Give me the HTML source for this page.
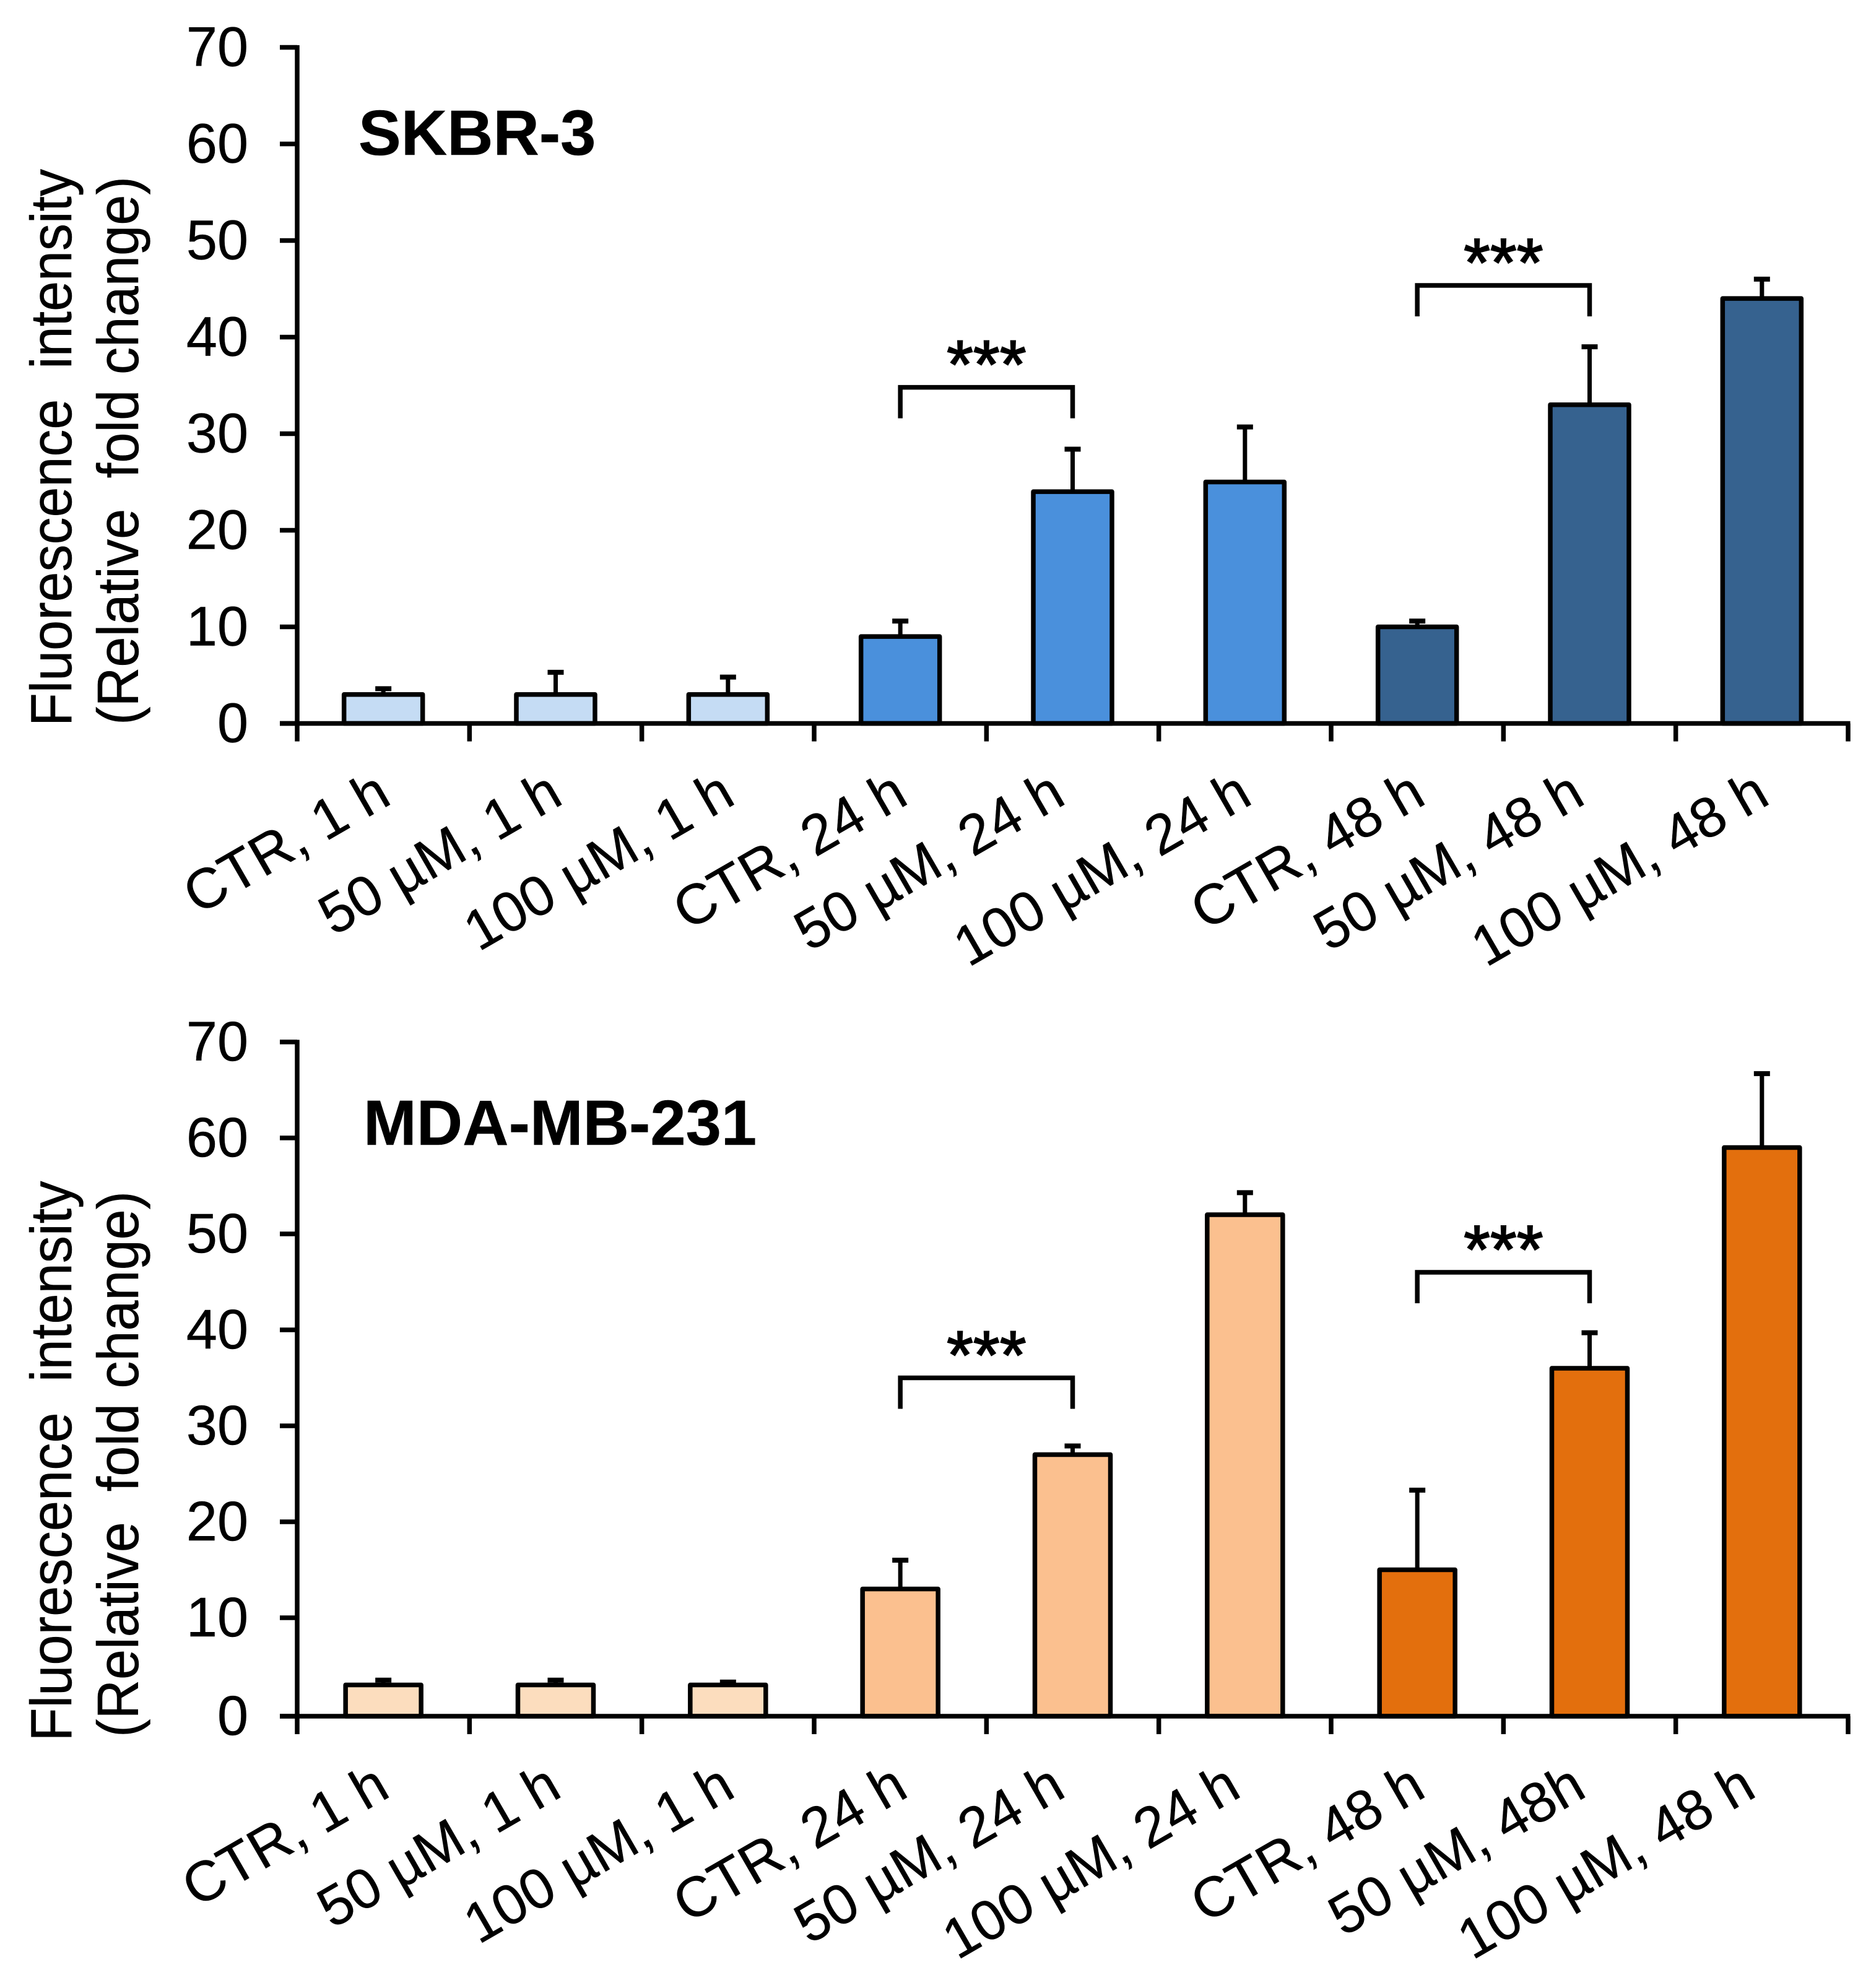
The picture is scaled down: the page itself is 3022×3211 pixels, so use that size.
<!DOCTYPE html>
<html lang="en">
<head>
<meta charset="utf-8">
<title>Fluorescence intensity: SKBR-3 and MDA-MB-231</title>
<style>
html,body{margin:0;padding:0;background:#fff;}
svg{display:block;}
text{font-family:"Liberation Sans",Arial,sans-serif;fill:#000;stroke:#000;stroke-width:0.5px;white-space:pre;}
</style>
</head>
<body>
<svg id="figure" xmlns="http://www.w3.org/2000/svg" width="3022" height="3211" viewBox="0 0 3022 3211"></svg>
<script>
// Shared tick labels
const yTickLabels = [0, 10, 20, 30, 40, 50, 60, 70];

// SKBR-3 data
const skbrCategories = ["CTR, 1 h", "50 µM, 1 h", "100 µM, 1 h", "CTR, 24 h", "50 µM, 24 h", "100 µM, 24 h", "CTR, 48 h", "50 µM, 48 h", "100 µM, 48 h"];
const skbrValues = [3, 3, 3, 9, 24, 25, 10, 33, 44];
const skbrErrorTops = [3.6, 5.3, 4.8, 10.6, 28.4, 30.7, 10.6, 39, 46];
const skbrBracketFrom = [3, 6];
const skbrBracketTo = [4, 7];
const skbrBracketLevels = [34.8, 45.35];

// MDA-MB-231 data
const mdaCategories = ["CTR, 1 h", "50 µM, 1 h", "100 µM, 1 h", "CTR, 24 h", "50 µM, 24 h", "100 µM, 24 h", "CTR, 48 h", "50 µM, 48h", "100 µM, 48 h"];
const mdaValues = [3, 3, 3, 13, 27, 52, 15, 36, 59];
const mdaErrorTops = [3.5, 3.5, 3.3, 16, 27.9, 54.3, 23.3, 39.7, 66.7];
const mdaBracketFrom = [3, 6];
const mdaBracketTo = [4, 7];
const mdaBracketLevels = [35, 46];

const svg = document.getElementById('figure');
const NS = 'http://www.w3.org/2000/svg';
const LINE = 7.5;

function make(parent, tag, attrs, content) {
  const el = document.createElementNS(NS, tag);
  for (const k in attrs) el.setAttribute(k, attrs[k]);
  if (content !== undefined) el.textContent = content;
  parent.appendChild(el);
  return el;
}

function drawPanel(cfg) {
  const xLeft = 480, xRight = 2985, yScale = v => cfg.y0 - v * cfg.unit;
  const band = (xRight - xLeft) / cfg.categories.length;
  const xCenter = i => xLeft + (i + 0.5) * band;

  const g = make(svg, 'g', {});
  
  

  // Bars and error bars (drawn first, axis on top)
  cfg.values.forEach((v, i) => {
    const top = yScale(v), errTop = yScale(cfg.errorTops[i]), cx = xCenter(i);
    const errLine = make(g, 'line', {x1: cx, x2: cx, y1: top, y2: errTop, stroke: '#000', 'stroke-width': 7});
    
    
    const errCap = make(g, 'line', {x1: cx - 13, x2: cx + 13, y1: errTop, y2: errTop, stroke: '#000', 'stroke-width': 8});
    
    
    const bar = make(g, 'rect', {
      x: cx - cfg.barWidth / 2, y: top, width: cfg.barWidth, height: cfg.axisY - top,
      fill: cfg.colors[Math.floor(i / 3)], stroke: '#000', 'stroke-width': LINE, 'stroke-linejoin': 'round'
    });
    
    
  });

  // Y axis
  const yAxis = make(g, 'line', {x1: xLeft, x2: xLeft, y1: yScale(70) - 3.5, y2: cfg.axisY + 29, stroke: '#000', 'stroke-width': LINE});
  
  

  yTickLabels.forEach(t => {
    const y = t === 0 ? cfg.axisY : yScale(t);
    const tick = make(g, 'line', {x1: 452, x2: xLeft, y1: y, y2: y, stroke: '#000', 'stroke-width': LINE});
    
    
    const label = make(g, 'text', {x: 401, y: y + 30, 'text-anchor': 'end', 'font-size': 90}, String(t));
    
    
  });

  // X axis
  const xAxis = make(g, 'line', {x1: 452, x2: xRight + 3.5, y1: cfg.axisY, y2: cfg.axisY, stroke: '#000', 'stroke-width': LINE});
  
  

  for (let i = 1; i <= cfg.categories.length; i++) {
    const x = xLeft + i * band;
    const tick = make(g, 'line', {x1: x, x2: x, y1: cfg.axisY, y2: cfg.axisY + 29, stroke: '#000', 'stroke-width': LINE});
    
    
  }

  cfg.categories.forEach((c, i) => {
    const ax = xCenter(i) + cfg.labelNudge[i], ay = cfg.axisY + 128;
    const label = make(g, 'text', {
      x: ax, y: ay, 'text-anchor': 'end', 'font-size': 91,
      transform: 'rotate(-30 ' + ax + ' ' + ay + ')'
    }, c);
    
    
  });

  // Axis title (two rotated lines)
  const title1 = make(g, 'text', {
    transform: 'translate(115 ' + cfg.titleCenter1 + ') rotate(-90)', 'text-anchor': 'middle',
    'font-size': 94, textLength: cfg.title1Len, lengthAdjust: 'spacingAndGlyphs'
  }, 'Fluorescence  intensity');
  
  
  const title2 = make(g, 'text', {
    transform: 'translate(223 ' + cfg.titleCenter2 + ') rotate(-90)', 'text-anchor': 'middle',
    'font-size': 94, textLength: cfg.title2Len, lengthAdjust: 'spacingAndGlyphs'
  }, '(Relative  fold change)');
  
  

  // Panel label
  const heading = make(g, 'text', {x: cfg.headingX, y: cfg.headingY, 'font-size': 103, 'font-weight': 700}, cfg.heading);
  
  

  // Significance brackets
  cfg.bracketLevels.forEach((lvl, b) => {
    const x1 = xCenter(cfg.bracketFrom[b]), x2 = xCenter(cfg.bracketTo[b]), y = yScale(lvl);
    const bracket = make(g, 'path', {
      d: 'M' + x1 + ' ' + (y + 50) + 'V' + y + 'H' + x2 + 'V' + (y + 50),
      fill: 'none', stroke: '#000', 'stroke-width': LINE
    });
    
    
    const stars = make(g, 'text', {x: (x1 + x2) / 2, y: y + 1, 'text-anchor': 'middle', 'font-size': 110, style: 'stroke-width:2px'}, '***');
    
    
  });
}

drawPanel({
  key: 'skbr3', heading: 'SKBR-3', headingX: 579, headingY: 250,
  y0: 1168.5, axisY: 1168.5, unit: 15.6, barWidth: 127,
  categories: skbrCategories, values: skbrValues, errorTops: skbrErrorTops,
  bracketFrom: skbrBracketFrom, bracketTo: skbrBracketTo, bracketLevels: skbrBracketLevels,
  colors: ['#C5DCF4', '#4A90DC', '#36628F'],
  labelNudge: [16, 15, 15, 16, -8, 15, 17, -4, 16],
  titleCenter1: 723, titleCenter2: 728, title1Len: 900, title2Len: 886
});
drawPanel({
  key: 'mda-mb-231', heading: 'MDA-MB-231', headingX: 587, headingY: 1849,
  y0: 2768, axisY: 2772, unit: 15.5, barWidth: 122,
  categories: mdaCategories, values: mdaValues, errorTops: mdaErrorTops,
  bracketFrom: mdaBracketFrom, bracketTo: mdaBracketTo, bracketLevels: mdaBracketLevels,
  colors: ['#FCDDBE', '#FBC08F', '#E36F0D'],
  labelNudge: [14, 13, 15, 16, -8, -3, 17, -2, -6],
  titleCenter1: 2360, titleCenter2: 2365, title1Len: 905, title2Len: 882
});
</script>
</body>
</html>
